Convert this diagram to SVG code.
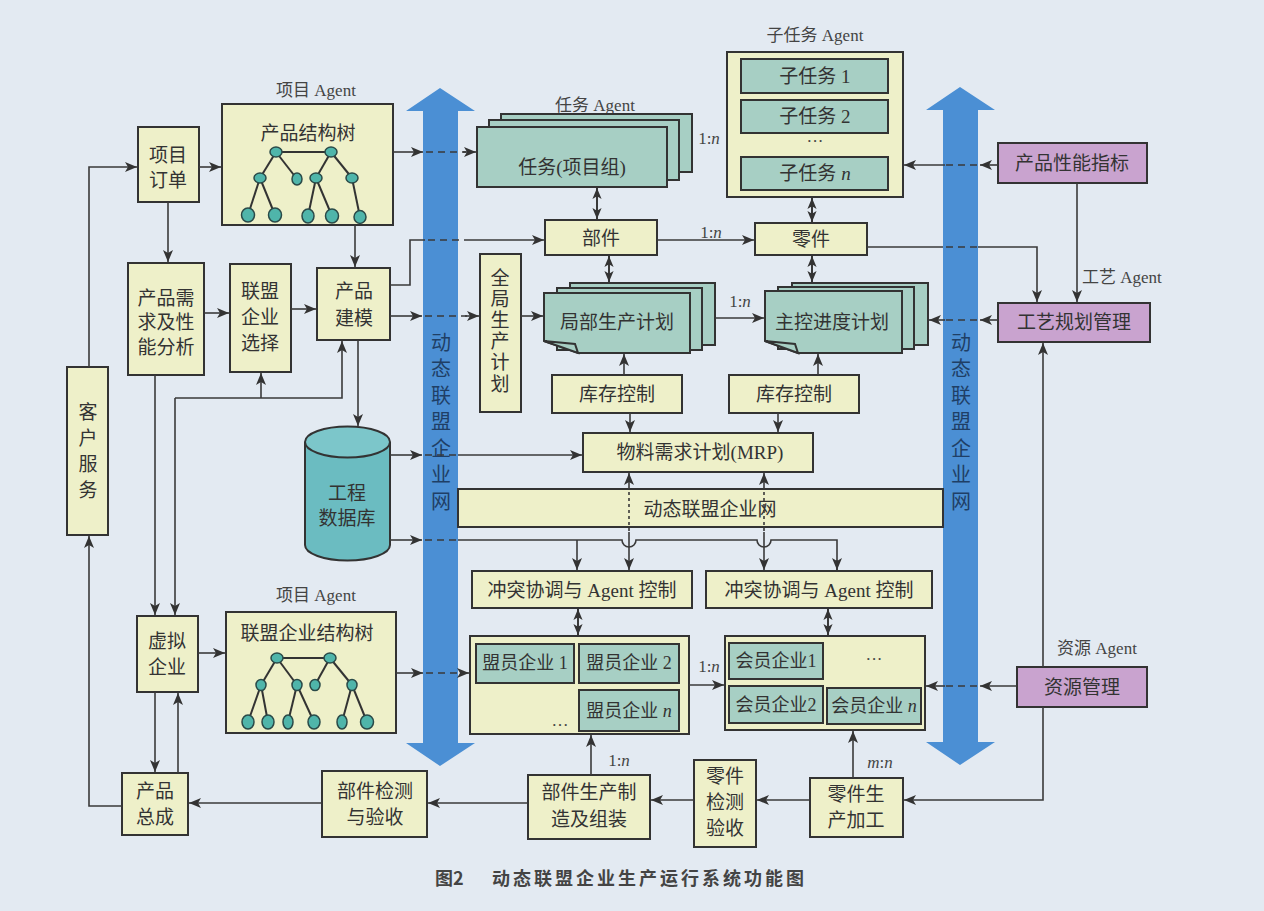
<svg xmlns="http://www.w3.org/2000/svg" width="1264" height="911" viewBox="0 0 1264 911">
<defs>
<marker id="a" viewBox="0 0 12 10" refX="12" refY="5" markerWidth="12" markerHeight="10" markerUnits="userSpaceOnUse" orient="auto"><path d="M0,0 L12,5 L0,10 L3,5 z" fill="#333"/></marker>
<marker id="d" viewBox="0 0 12 10" refX="12" refY="5" markerWidth="11" markerHeight="10" markerUnits="userSpaceOnUse" orient="auto-start-reverse"><path d="M0,0 L12,5 L0,10 L3,5 z" fill="#333"/></marker>
<style>
.y{fill:#eef0c9;stroke:#333;stroke-width:2}
.t{fill:#a7cfc4;stroke:#333;stroke-width:2}
.p{fill:#c9a3cf;stroke:#333;stroke-width:2}
.ln{fill:none;stroke:#3a3a3a;stroke-width:1.6}
.ar{marker-end:url(#a)}
.db{marker-start:url(#d);marker-end:url(#d);stroke-width:2}
.ds{stroke-dasharray:7 5}
.dt{stroke-dasharray:3 3}
.tx{font-family:"Liberation Serif","Noto Sans CJK SC",serif;font-size:19px;fill:#333;text-anchor:middle;dominant-baseline:central}
.sm{font-size:17px;fill:#444}
.vt{font-size:20px;fill:#1f3f66}
.tr{stroke:#333;stroke-width:2}
.nd{fill:#4fb5aa;stroke:#2a4a48;stroke-width:1.5}
.blue{fill:#4b8fd4}
</style>
</defs>
<rect width="1264" height="911" fill="#e3eaf2"/>

<g id="net-arrows">
<path class="blue" d="M440,88 L475,111 L458,111 L458,743 L475,743 L440,766 L406,743 L423,743 L423,111 L406,111 Z"/>
<path class="blue" d="M960,87 L995,110 L978,110 L978,742 L995,742 L960,765 L926,742 L943,742 L943,110 L926,110 Z"/>
<text class="tx vt"><tspan x="441" y="343">动</tspan><tspan x="441" y="369">态</tspan><tspan x="441" y="396">联</tspan><tspan x="441" y="422">盟</tspan><tspan x="441" y="449">企</tspan><tspan x="441" y="475">业</tspan><tspan x="441" y="502">网</tspan></text>
<text class="tx vt"><tspan x="961" y="343">动</tspan><tspan x="961" y="369">态</tspan><tspan x="961" y="396">联</tspan><tspan x="961" y="422">盟</tspan><tspan x="961" y="449">企</tspan><tspan x="961" y="475">业</tspan><tspan x="961" y="502">网</tspan></text>
</g>

<g id="n-kehu"><rect class="y" x="67" y="367" width="41" height="168"/><text class="tx"><tspan x="88" y="412">客</tspan><tspan x="88" y="438">户</tspan><tspan x="88" y="464">服</tspan><tspan x="88" y="490">务</tspan></text></g>
<g id="n-xmdd"><rect class="y" x="138" y="127" width="61" height="75"/><text class="tx" x="168" y="155">项目</text><text class="tx" x="168" y="180">订单</text></g>
<g id="n-cpjgs"><text class="tx sm" x="316" y="90">项目 Agent</text><rect class="y" x="222" y="104" width="171" height="121"/><text class="tx" x="308" y="133">产品结构树</text>
<g class="tr"><line x1="276" y1="152" x2="331" y2="152"/><line x1="276" y1="152" x2="260" y2="178"/><line x1="276" y1="152" x2="297" y2="179"/><line x1="331" y1="152" x2="316" y2="178"/><line x1="331" y1="152" x2="352" y2="178"/><line x1="260" y1="178" x2="248" y2="215"/><line x1="260" y1="178" x2="275" y2="215"/><line x1="316" y1="178" x2="308" y2="216"/><line x1="316" y1="178" x2="332" y2="216"/><line x1="352" y1="178" x2="360" y2="217"/></g>
<g class="nd"><ellipse cx="276" cy="152" rx="6" ry="5"/><ellipse cx="331" cy="152" rx="6" ry="5"/><ellipse cx="260" cy="178" rx="6" ry="5"/><ellipse cx="297" cy="179" rx="5" ry="6"/><ellipse cx="316" cy="178" rx="6" ry="5"/><ellipse cx="352" cy="178" rx="6" ry="5"/><ellipse cx="248" cy="215" rx="6.5" ry="7"/><ellipse cx="275" cy="215" rx="6.5" ry="7"/><ellipse cx="308" cy="216" rx="6" ry="7"/><ellipse cx="332" cy="216" rx="6.5" ry="7"/><ellipse cx="360" cy="217" rx="6" ry="6.5"/></g></g>
<g id="n-cpxq"><rect class="y" x="128" y="263" width="76" height="112"/><text class="tx" x="166" y="298">产品需</text><text class="tx" x="166" y="322">求及性</text><text class="tx" x="166" y="347">能分析</text></g>
<g id="n-lmxz"><rect class="y" x="230" y="264" width="61" height="108"/><text class="tx" x="260" y="291">联盟</text><text class="tx" x="260" y="317">企业</text><text class="tx" x="260" y="343">选择</text></g>
<g id="n-cpjm"><rect class="y" x="317" y="268" width="73" height="72"/><text class="tx" x="354" y="291">产品</text><text class="tx" x="354" y="318">建模</text></g>
<g id="n-gcsjk"><path d="M305,442 V545 A42.5,15.5 0 0 0 390,545 V442" fill="#6bbcc1" stroke="#333" stroke-width="2"/><ellipse cx="347.5" cy="442" rx="42.5" ry="15.5" fill="#7cc6ca" stroke="#333" stroke-width="2"/><text class="tx" x="347" y="493">工程</text><text class="tx" x="347" y="518">数据库</text></g>

<g id="n-rw"><text class="tx sm" x="595" y="105">任务 Agent</text><rect class="t" x="501" y="114" width="191" height="58"/><rect class="t" x="489" y="120" width="190" height="60"/><rect class="t" x="477" y="127" width="190" height="60"/><text class="tx" x="572" y="167">任务(项目组)</text></g>
<g id="n-zrw"><text class="tx sm" x="815" y="35">子任务 Agent</text><rect class="y" x="727" y="52" width="176" height="145"/><rect class="t" x="741" y="59" width="147" height="34"/><text class="tx" x="815" y="76">子任务 1</text><rect class="t" x="741" y="100" width="147" height="33"/><text class="tx" x="815" y="116">子任务 2</text><text class="tx sm" x="815" y="141">···</text><rect class="t" x="741" y="157" width="147" height="33"/><text class="tx" x="815" y="173">子任务 <tspan font-style="italic">n</tspan></text></g>
<g id="n-bj"><rect class="y" x="545" y="220" width="112" height="35"/><text class="tx" x="601" y="238">部件</text></g>
<g id="n-lj"><rect class="y" x="755" y="223" width="112" height="32"/><text class="tx" x="811" y="239">零件</text></g>
<g id="n-qjsc"><rect class="y" x="480" y="254" width="41" height="158"/><text class="tx"><tspan x="500" y="278">全</tspan><tspan x="500" y="299">局</tspan><tspan x="500" y="320">生</tspan><tspan x="500" y="341">产</tspan><tspan x="500" y="362">计</tspan><tspan x="500" y="384">划</tspan></text></g>
<g id="n-jbsc"><rect class="t" x="570" y="283" width="145" height="62"/><rect class="t" x="557" y="288" width="145" height="62"/><path class="t" d="M544,293 H690 V353 H578 L544,341 Z"/><path class="t" d="M544,341 L575,344 L578,353 Z"/><text class="tx" x="617" y="322">局部生产计划</text></g>
<g id="n-zkjd"><rect class="t" x="792" y="283" width="136" height="62"/><rect class="t" x="778" y="287" width="136" height="62"/><path class="t" d="M765,291 H902 V353 H798 L765,341 Z"/><path class="t" d="M765,341 L795,344 L798,353 Z"/><text class="tx" x="832" y="322">主控进度计划</text></g>
<g id="n-kc1"><rect class="y" x="552" y="375" width="130" height="38"/><text class="tx" x="617" y="394">库存控制</text></g>
<g id="n-kc2"><rect class="y" x="729" y="375" width="130" height="38"/><text class="tx" x="794" y="394">库存控制</text></g>
<g id="n-mrp"><rect class="y" x="583" y="433" width="230" height="39"/><text class="tx" x="700" y="452">物料需求计划(MRP)</text></g>
<g id="n-net"><rect class="y" x="458" y="489" width="485" height="38"/><text class="tx" x="710" y="509">动态联盟企业网</text></g>
<g id="n-ct1"><rect class="y" x="472" y="571" width="220" height="37"/><text class="tx" x="582" y="590">冲突协调与 Agent 控制</text></g>
<g id="n-ct2"><rect class="y" x="706" y="571" width="226" height="37"/><text class="tx" x="819" y="590">冲突协调与 Agent 控制</text></g>

<g id="n-xnqy"><rect class="y" x="137" y="616" width="61" height="76"/><text class="tx" x="167" y="641">虚拟</text><text class="tx" x="167" y="667">企业</text></g>
<g id="n-lmjgs"><text class="tx sm" x="316" y="595">项目 Agent</text><rect class="y" x="226" y="612" width="170" height="121"/><text class="tx" x="307" y="633">联盟企业结构树</text>
<g class="tr"><line x1="277" y1="658" x2="330" y2="658"/><line x1="277" y1="658" x2="261" y2="685"/><line x1="277" y1="658" x2="297" y2="685"/><line x1="330" y1="658" x2="315" y2="685"/><line x1="330" y1="658" x2="352" y2="685"/><line x1="261" y1="685" x2="248" y2="722"/><line x1="261" y1="685" x2="268" y2="722"/><line x1="297" y1="685" x2="288" y2="722"/><line x1="297" y1="685" x2="314" y2="722"/><line x1="352" y1="685" x2="342" y2="722"/><line x1="352" y1="685" x2="367" y2="722"/></g>
<g class="nd"><ellipse cx="277" cy="658" rx="6" ry="5"/><ellipse cx="330" cy="658" rx="6" ry="5"/><ellipse cx="261" cy="685" rx="5" ry="5.5"/><ellipse cx="297" cy="685" rx="5" ry="5.5"/><ellipse cx="315" cy="685" rx="5" ry="5.5"/><ellipse cx="352" cy="685" rx="5" ry="5.5"/><ellipse cx="248" cy="722" rx="6" ry="7"/><ellipse cx="268" cy="722" rx="6" ry="7"/><ellipse cx="288" cy="722" rx="5" ry="7"/><ellipse cx="314" cy="722" rx="6" ry="7"/><ellipse cx="342" cy="722" rx="5" ry="7"/><ellipse cx="367" cy="722" rx="6.5" ry="7"/></g></g>
<g id="n-my"><rect class="y" x="470" y="636" width="219" height="98"/><rect class="t" x="476" y="644" width="98" height="39"/><text class="tx" x="525" y="663" style="font-size:18px">盟员企业 1</text><rect class="t" x="579" y="644" width="100" height="39"/><text class="tx" x="629" y="663" style="font-size:18px">盟员企业 2</text><rect class="t" x="579" y="690" width="100" height="41"/><text class="tx" x="629" y="711" style="font-size:18px">盟员企业 <tspan font-style="italic">n</tspan></text><text class="tx sm" x="560" y="720">…</text></g>
<g id="n-hy"><rect class="y" x="725" y="636" width="200" height="94"/><rect class="t" x="729" y="643" width="94" height="36"/><text class="tx" x="776" y="661" style="font-size:18px">会员企业1</text><rect class="t" x="729" y="686" width="94" height="37"/><text class="tx" x="776" y="705" style="font-size:18px">会员企业2</text><rect class="t" x="827" y="688" width="94" height="36"/><text class="tx" x="874" y="706" style="font-size:18px">会员企业 <tspan font-style="italic">n</tspan></text><text class="tx sm" x="874" y="659">···</text></g>
<g id="n-cpzc"><rect class="y" x="122" y="773" width="66" height="62"/><text class="tx" x="155" y="791">产品</text><text class="tx" x="155" y="817">总成</text></g>
<g id="n-bjjc"><rect class="y" x="322" y="771" width="105" height="66"/><text class="tx" x="375" y="791">部件检测</text><text class="tx" x="375" y="817">与验收</text></g>
<g id="n-bjsc"><rect class="y" x="528" y="775" width="122" height="64"/><text class="tx" x="589" y="792">部件生产制</text><text class="tx" x="589" y="819">造及组装</text></g>
<g id="n-ljjc"><rect class="y" x="694" y="760" width="62" height="87"/><text class="tx" x="725" y="776">零件</text><text class="tx" x="725" y="802">检测</text><text class="tx" x="725" y="828">验收</text></g>
<g id="n-ljsc"><rect class="y" x="810" y="778" width="93" height="59"/><text class="tx" x="856" y="794">零件生</text><text class="tx" x="856" y="820">产加工</text></g>
<g id="n-cpxn"><rect class="p" x="998" y="143" width="149" height="40"/><text class="tx" x="1072" y="163">产品性能指标</text></g>
<g id="n-gygh"><text class="tx sm" x="1082" y="277" style="text-anchor:start">工艺 Agent</text><rect class="p" x="998" y="303" width="152" height="39"/><text class="tx" x="1074" y="322">工艺规划管理</text></g>
<g id="n-zygl"><text class="tx sm" x="1097" y="648">资源 Agent</text><rect class="p" x="1017" y="667" width="130" height="40"/><text class="tx" x="1082" y="687">资源管理</text></g>

<g id="connectors">
<path class="ln ar" d="M122,806 H89 V536"/>
<path class="ln ar" d="M89,367 V167 H137"/>
<path class="ln ar" d="M199,167 H221"/>
<path class="ln ar" d="M168,202 V262"/>
<path class="ln ar" d="M204,313 H229"/>
<path class="ln ar" d="M291,309 H316"/>
<path class="ln ar" d="M355,225 V267"/>
<path class="ln ar" d="M393,152 H423"/><path class="ln ds" d="M426,152 H466"/><path class="ln ar" d="M463,152 H476"/>
<path class="ln" d="M390,285 H410 V240 H425"/><path class="ln ds" d="M428,240 H470"/><path class="ln ar" d="M470,240 H544"/>
<path class="ln ar" d="M390,316 H422"/><path class="ln ds" d="M425,316 H467"/><path class="ln ar" d="M465,316 H479"/>
<path class="ln ar" d="M521,316 H543"/>
<path class="ln ar" d="M358,340 V426"/>
<path class="ln ar" d="M261,398 V373"/>
<path class="ln ar" d="M175,398 H342 V341"/>
<path class="ln ar" d="M175,398 V615"/>
<path class="ln ar" d="M155,375 V615"/>
<path class="ln ar" d="M155,692 V772"/>
<path class="ln ar" d="M178,773 V693"/>
<path class="ln ar" d="M198,653 H225"/>
<path class="ln ar" d="M396,673 H423"/><path class="ln ds" d="M426,673 H462"/><path class="ln ar" d="M460,673 H469"/>
<path class="ln ar" d="M390,455 H422"/><path class="ln ds" d="M425,455 H460"/><path class="ln ar" d="M458,455 H582"/>
<path class="ln ar" d="M390,540 H422"/><path class="ln ds" d="M425,540 H460"/>
<path class="ln" d="M458,540 H622 A7,7 0 0 0 636,540 H757 A7,7 0 0 0 771,540 H837 V570"/>
<path class="ln ar" d="M577,540 V570"/>
<path class="ln ar" d="M837,560 V570"/>
<path class="ln ar" d="M629,486 V473"/><path class="ln dt" d="M629,486 V532"/><path class="ln ar" d="M629,532 V570"/>
<path class="ln ar" d="M764,486 V473"/><path class="ln dt" d="M764,486 V532"/><path class="ln ar" d="M764,532 V570"/>
<path class="ln ar" d="M624,375 V354"/>
<path class="ln ar" d="M630,413 V432"/>
<path class="ln ar" d="M818,375 V354"/>
<path class="ln ar" d="M778,413 V432"/>
<path class="ln db" d="M597,188 V219"/>
<path class="ln db" d="M609,256 V282"/>
<path class="ln db" d="M812,198 V222"/>
<path class="ln db" d="M812,256 V282"/>
<path class="ln ar" d="M657,240 H754"/>
<path class="ln ar" d="M715,318 H764"/>
<path class="ln" d="M867,247 H943"/><path class="ln ds" d="M946,247 H978"/><path class="ln ar" d="M978,247 H1037 V302"/>
<path class="ln ar" d="M998,165 H980"/><path class="ln ds" d="M977,165 H945"/><path class="ln ar" d="M945,165 H904"/>
<path class="ln ar" d="M1077,183 V302"/>
<path class="ln ar" d="M998,320 H980"/><path class="ln ds" d="M977,320 H945"/><path class="ln ar" d="M945,320 H929"/>
<path class="ln ar" d="M1043,667 V343"/>
<path class="ln ar" d="M1043,707 V800 H904"/>
<path class="ln ar" d="M1017,686 H980"/><path class="ln ds" d="M977,686 H945"/><path class="ln ar" d="M945,686 H926"/>
<path class="ln db" d="M578,609 V635"/>
<path class="ln db" d="M828,609 V635"/>
<path class="ln ar" d="M689,685 H724"/>
<path class="ln ar" d="M591,775 V735"/>
<path class="ln ar" d="M853,778 V731"/>
<path class="ln ar" d="M810,800 H757"/>
<path class="ln ar" d="M694,800 H651"/>
<path class="ln ar" d="M528,803 H428"/>
<path class="ln ar" d="M322,803 H189"/>
<text class="tx sm" x="709" y="138">1:<tspan font-style="italic">n</tspan></text>
<text class="tx sm" x="711" y="232">1:<tspan font-style="italic">n</tspan></text>
<text class="tx sm" x="740" y="301">1:<tspan font-style="italic">n</tspan></text>
<text class="tx sm" x="709" y="666">1:<tspan font-style="italic">n</tspan></text>
<text class="tx sm" x="619" y="760">1:<tspan font-style="italic">n</tspan></text>
<text class="tx sm" x="880" y="762"><tspan font-style="italic">m</tspan>:<tspan font-style="italic">n</tspan></text>
</g>

<g id="caption">
<text x="435" y="877" style="font-family:'Noto Sans CJK SC',sans-serif;font-size:18px;font-weight:bold;fill:#444;dominant-baseline:central">图2</text>
<text x="492" y="877" style="font-family:'Noto Sans CJK SC',sans-serif;font-size:18px;font-weight:bold;fill:#444;letter-spacing:3px;dominant-baseline:central">动态联盟企业生产运行系统功能图</text>
</g>
</svg>
